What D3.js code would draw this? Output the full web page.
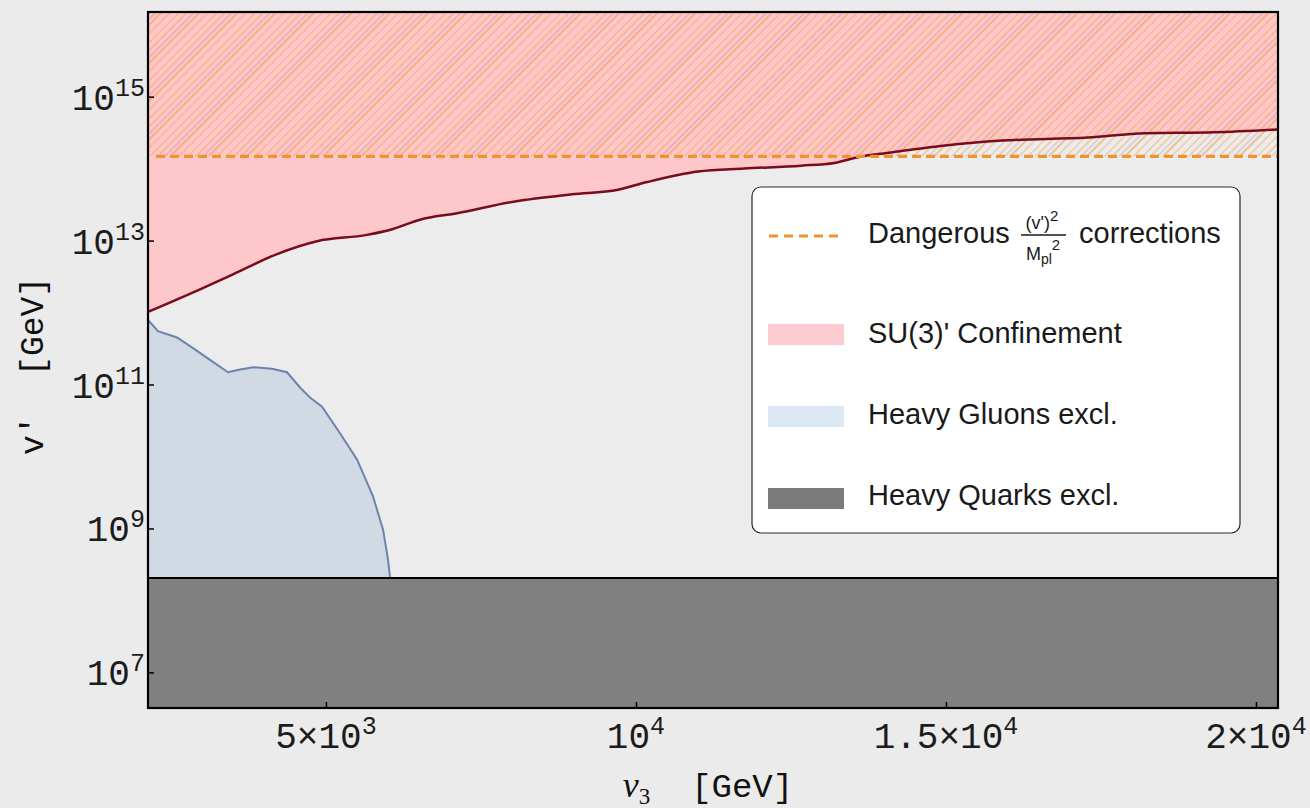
<!DOCTYPE html>
<html>
<head>
<meta charset="utf-8">
<script src="https://cdn.jsdelivr.net/npm/d3@7"></script>
<style>
  html, body { margin: 0; padding: 0; background: #ebebeb; }
  svg { display: block; }
</style>
</head>
<body>
<svg id="chart" width="1310" height="808"></svg>
<script>
// Axis domains (v3 in GeV, v' in GeV)
const xDomain = [2130, 20355];
const yDomain = [3.2e6, 1.5e16];

// Tick positions and label parts
const xTicks = [5000, 10000, 15000, 20000];
const xTickMantissa = ["5×", "", "1.5×", "2×"];
const xTickExponent = ["3", "4", "4", "4"];
const yTicks = [1e7, 1e9, 1e11, 1e13, 1e15];
const yTickExponent = ["7", "9", "11", "13", "15"];

// SU(3)' confinement boundary: v' above this curve is excluded
const confinementV3 = [2130, 2969, 3501, 4211, 4856, 5662, 6082, 6517, 7114, 8050, 8969, 9711, 10179,
  11002, 11743, 12663, 13200, 13598, 14050, 14986, 15905, 17292, 18212, 19325, 20355];
const confinementVp = [1.02e12, 2.1e12, 3.4e12, 6.5e12, 9.8e12, 1.2e13, 1.45e13, 1.95e13, 2.4e13, 3.5e13,
  4.4e13, 5.1e13, 6.5e13, 9.1e13, 1.0e14, 1.1e14, 1.2e14, 1.45e14, 1.65e14, 2.1e14, 2.45e14, 2.7e14,
  3.1e14, 3.2e14, 3.5e14];

// Heavy gluon exclusion boundary
const gluonV3 = [2130, 2291, 2598, 2856, 3130, 3420, 3614, 3824, 4130, 4372, 4582, 4743, 4937, 5227,
  5501, 5759, 5920, 6001, 6033];
const gluonVp = [7.9e11, 5.5e11, 4.5e11, 3.2e11, 2.2e11, 1.48e11, 1.62e11, 1.74e11, 1.66e11, 1.48e11,
  9.1e10, 6.6e10, 4.9e10, 2.1e10, 9.1e9, 2.8e9, 9.7e8, 3.7e8, 2.1e8];

// Horizontal limits
const dangerLevel = 1.48e14;   // (v')^2 / Mpl^2 corrections become dangerous
const quarkLimit = 2.05e8;     // heavy quark exclusion

const legendLabels = ["Dangerous", "SU(3)' Confinement", "Heavy Gluons excl.", "Heavy Quarks excl."];

const colors = {
  bg: "#ebebeb",
  plotBg: "#ececec",
  pink: "#fec7c9",
  pinkLegend: "#fdccd2",
  redLine: "#7a0b1c",
  gluonFill: "#d0d9e4",
  gluonLegend: "#dde8f5",
  gluonLine: "#6c83ad",
  quark: "#808080",
  quarkLegend: "#7a7a7a",
  orange: "#f0922e",
  hatch: "#f29a45"
};

const margin = { left: 148, top: 12, right: 1278, bottom: 708 };
const monoFont = "'Liberation Mono', 'DejaVu Sans Mono', monospace";
const sansFont = "'Liberation Sans', Arial, sans-serif";

const svg = d3.select("#chart");
const x = d3.scaleLinear().domain(xDomain).range([margin.left, margin.right]);
const y = d3.scaleLog().domain(yDomain).range([margin.bottom, margin.top]);

const defs = svg.append("defs");
defs.append("clipPath").attr("id", "plot-clip")
  .append("rect")
  .attr("x", margin.left).attr("y", margin.top)
  .attr("width", margin.right - margin.left).attr("height", margin.bottom - margin.top);

// Diagonal hatch for the region above the dangerous-corrections line
const hatch = defs.append("pattern")
  .attr("id", "hatch")
  .attr("patternUnits", "userSpaceOnUse")
  .attr("width", 27).attr("height", 27)
  .attr("patternTransform", "rotate(45)");
[[0, colors.hatch, 1.4, 0.85], [6, colors.hatch, 1.1, 0.7], [11, "#8e6078", 0.7, 0.55],
 [15, colors.hatch, 1.3, 0.85], [21, colors.hatch, 1.0, 0.65]]
  .forEach(([px, c, w, o]) => {
    hatch.append("line")
      .attr("x1", px).attr("y1", 0).attr("x2", px).attr("y2", 27)
      .attr("stroke", c).attr("stroke-width", w).attr("stroke-opacity", o);
  });

svg.append("rect").attr("width", 1310).attr("height", 808).attr("fill", colors.bg);

const plot = svg.append("g").attr("clip-path", "url(#plot-clip)");
plot.append("rect")
  .attr("x", margin.left).attr("y", margin.top)
  .attr("width", margin.right - margin.left).attr("height", margin.bottom - margin.top)
  .attr("fill", colors.plotBg);

const gluonData = gluonV3.map((v, i) => ({ x: v, y: gluonVp[i] }));
const confData = confinementV3.map((v, i) => ({ x: v, y: confinementVp[i] }));

// Heavy gluon exclusion region
plot.append("path")
  .datum(gluonData)
  .attr("fill", colors.gluonFill)
  .attr("d", d3.area().x(d => x(d.x)).y0(y(yDomain[0])).y1(d => y(d.y)));
plot.append("path")
  .datum(gluonData)
  .attr("fill", "none")
  .attr("stroke", colors.gluonLine)
  .attr("stroke-width", 2)
  .attr("d", d3.line().x(d => x(d.x)).y(d => y(d.y)));

// SU(3)' confinement region
const confCurve = d3.curveMonotoneX;
plot.append("path")
  .datum(confData)
  .attr("fill", colors.pink)
  .attr("d", d3.area().curve(confCurve).x(d => x(d.x)).y0(y(yDomain[1])).y1(d => y(d.y)));

// Hatched band above the dangerous-corrections scale
plot.append("rect")
  .attr("x", x(xDomain[0])).attr("y", y(yDomain[1]))
  .attr("width", x(xDomain[1]) - x(xDomain[0]))
  .attr("height", y(dangerLevel) - y(yDomain[1]))
  .attr("fill", "url(#hatch)");

plot.append("path")
  .datum(confData)
  .attr("fill", "none")
  .attr("stroke", colors.redLine)
  .attr("stroke-width", 2.5)
  .attr("d", d3.line().curve(confCurve).x(d => x(d.x)).y(d => y(d.y)));

plot.append("line")
  .attr("x1", x(xDomain[0]) + 8).attr("x2", x(xDomain[1]))
  .attr("y1", y(dangerLevel)).attr("y2", y(dangerLevel))
  .attr("stroke", colors.orange).attr("stroke-width", 3.2)
  .attr("stroke-dasharray", "9,5");

// Heavy quark exclusion
plot.append("rect")
  .attr("x", x(xDomain[0])).attr("y", y(quarkLimit))
  .attr("width", x(xDomain[1]) - x(xDomain[0]))
  .attr("height", y(yDomain[0]) - y(quarkLimit))
  .attr("fill", colors.quark);
plot.append("line")
  .attr("x1", x(xDomain[0])).attr("x2", x(xDomain[1]))
  .attr("y1", y(quarkLimit)).attr("y2", y(quarkLimit))
  .attr("stroke", "#000").attr("stroke-width", 2.2);

// Frame
svg.append("rect")
  .attr("x", margin.left).attr("y", margin.top)
  .attr("width", margin.right - margin.left).attr("height", margin.bottom - margin.top)
  .attr("fill", "none").attr("stroke", "#000").attr("stroke-width", 2.2);

// Axes (inward ticks, custom labels)
const xAxis = d3.axisBottom(x).tickValues(xTicks).tickSizeInner(-6).tickSizeOuter(0).tickFormat("");
const yAxis = d3.axisLeft(y).tickValues(yTicks).tickSizeInner(-6).tickSizeOuter(0).tickFormat("");
const gx = svg.append("g").attr("transform", `translate(0,${margin.bottom})`).call(xAxis);
const gy = svg.append("g").attr("transform", `translate(${margin.left},0)`).call(yAxis);
[gx, gy].forEach(g => {
  g.select(".domain").remove();
  g.selectAll(".tick line").attr("stroke", "#000").attr("stroke-width", 1.5);
});

const xl = svg.append("g")
  .attr("font-family", monoFont).attr("fill", "#1c1c1c");
xTicks.forEach((t, i) => {
  const txt = xl.append("text")
    .attr("x", x(t)).attr("y", 748)
    .attr("text-anchor", "middle")
    .attr("font-size", 36);
  txt.append("tspan").text(xTickMantissa[i] + "10");
  txt.append("tspan").attr("font-size", 25).attr("dy", -14).text(xTickExponent[i]);
});

const yl = svg.append("g")
  .attr("font-family", monoFont).attr("fill", "#1c1c1c");
yTicks.forEach((t, i) => {
  const txt = yl.append("text")
    .attr("x", margin.left - 3).attr("y", y(t) + 13)
    .attr("text-anchor", "end")
    .attr("font-size", 36);
  txt.append("tspan").text("10");
  txt.append("tspan").attr("font-size", 25).attr("dy", -14).text(yTickExponent[i]);
});

// Axis titles
const xt = svg.append("text")
  .attr("x", 708).attr("y", 797)
  .attr("text-anchor", "middle")
  .attr("fill", "#111");
xt.append("tspan").attr("font-family", "'Liberation Serif', serif").attr("font-style", "italic")
  .attr("font-size", 36).text("v");
xt.append("tspan").attr("font-family", "'Liberation Serif', serif").attr("font-size", 23)
  .attr("dy", 7).text("3");
xt.append("tspan").attr("font-family", monoFont).attr("font-size", 34)
  .attr("dy", -7).attr("xml:space", "preserve").text("  [GeV]");

svg.append("text")
  .attr("transform", "translate(43,366) rotate(-90)")
  .attr("text-anchor", "middle")
  .attr("font-family", monoFont).attr("font-size", 33)
  .attr("fill", "#111")
  .attr("xml:space", "preserve")
  .text("v'  [GeV]");

// Legend
const lg = svg.append("g");
lg.append("rect")
  .attr("x", 752).attr("y", 187).attr("width", 488).attr("height", 346)
  .attr("rx", 9).attr("ry", 9)
  .attr("fill", "#ffffff").attr("stroke", "#2a2a2a").attr("stroke-width", 1.2);

lg.append("line")
  .attr("x1", 769).attr("x2", 842).attr("y1", 236).attr("y2", 236)
  .attr("stroke", colors.orange).attr("stroke-width", 3)
  .attr("stroke-dasharray", "9,6");
lg.append("rect").attr("x", 768).attr("y", 324).attr("width", 76).attr("height", 21).attr("fill", colors.pinkLegend);
lg.append("rect").attr("x", 768).attr("y", 406).attr("width", 76).attr("height", 21).attr("fill", colors.gluonLegend);
lg.append("rect").attr("x", 768).attr("y", 488).attr("width", 76).attr("height", 21).attr("fill", colors.quarkLegend);

const legendBaselines = [243, 343, 424, 505];
legendLabels.forEach((label, i) => {
  lg.append("text")
    .attr("x", 868).attr("y", legendBaselines[i])
    .attr("font-family", sansFont).attr("font-size", 29)
    .attr("fill", "#1a1a1a")
    .text(label);
});

// (v')^2 / Mpl^2 fraction and the word after it
const frac = lg.append("g").attr("font-family", sansFont).attr("fill", "#1a1a1a");
const num = frac.append("text").attr("x", 1042).attr("y", 229).attr("text-anchor", "middle").attr("font-size", 18);
num.append("tspan").text("(v')");
num.append("tspan").attr("font-size", 15).attr("dy", -8).text("2");
frac.append("line").attr("x1", 1021).attr("x2", 1066).attr("y1", 235).attr("y2", 235)
  .attr("stroke", "#1a1a1a").attr("stroke-width", 1.3);
const den = frac.append("text").attr("x", 1043).attr("y", 260).attr("text-anchor", "middle").attr("font-size", 18);
den.append("tspan").text("M");
den.append("tspan").attr("font-size", 14).attr("dy", 4).text("pl");
den.append("tspan").attr("font-size", 15).attr("dy", -14).text("2");
lg.append("text")
  .attr("x", 1079).attr("y", 243)
  .attr("font-family", sansFont).attr("font-size", 29)
  .attr("fill", "#1a1a1a")
  .text("corrections");
</script>
</body>
</html>
